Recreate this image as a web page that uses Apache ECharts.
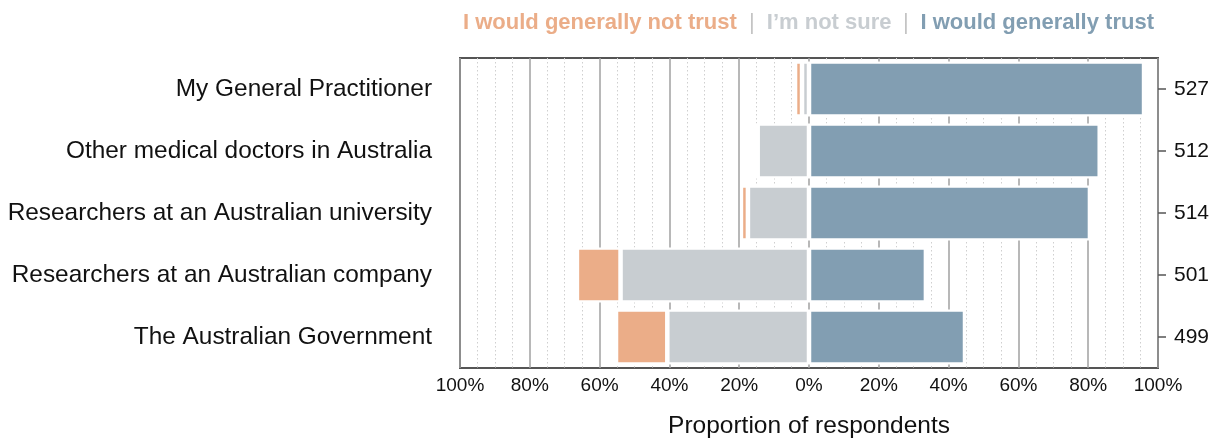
<!DOCTYPE html>
<html>
<head>
<meta charset="utf-8">
<script src="https://cdn.jsdelivr.net/npm/echarts@6/dist/echarts.min.js"></script>
<style>
  html, body { margin: 0; padding: 0; background: #ffffff; }
  #chart { width: 1215px; height: 441px; }
</style>
</head>
<body>
<div id="chart"></div>
<script>
// ---- Data ----
const categories = [
  'My General Practitioner',
  'Other medical doctors in Australia',
  'Researchers at an Australian university',
  'Researchers at an Australian company',
  'The Australian Government'
];
const respondents = ['527', '512', '514', '501', '499'];
// percentages of respondents
const notTrust = [2, 1, 2, 12.5, 14.7];
const notSure  = [2, 14.7, 17.5, 54, 40.6];
const trust    = [96, 83.3, 80.5, 33.5, 44.7];

const legendLabels = ['I would generally not trust', 'I\u2019m not sure', 'I would generally trust'];
const colors = { notTrust: '#EBAD88', notSure: '#C8CDD1', trust: '#829EB2' };

const FONT = 'Liberation Sans';

const chart = echarts.init(document.getElementById('chart'), null, { renderer: 'canvas' });

const barStyle = (c) => ({ color: c, borderColor: '#ffffff', borderWidth: 2.25 });

const option = {
  animation: false,
  backgroundColor: '#ffffff',
  title: {
    left: 463,
    top: 12,
    padding: 0,
    text: '{a|' + legendLabels[0] + '}{s||}{b|' + legendLabels[1] + '}{s2||}{c|' + legendLabels[2] + '}',
    textStyle: {
      fontFamily: FONT,
      fontSize: 22,
      rich: {
        a: { color: colors.notTrust, fontWeight: 'bold', fontSize: 22, fontFamily: FONT },
        b: { color: colors.notSure, fontWeight: 'bold', fontSize: 22, fontFamily: FONT },
        c: { color: colors.trust, fontWeight: 'bold', fontSize: 22, fontFamily: FONT },
        s: { color: '#c4c4c4', fontWeight: 'normal', fontSize: 22, fontFamily: FONT, width: 30, align: 'center' },
        s2: { color: '#c4c4c4', fontWeight: 'normal', fontSize: 22, fontFamily: FONT, width: 29, align: 'center' }
      }
    }
  },
  grid: {
    left: 460,
    right: 57,
    top: 58,
    bottom: 73,
    containLabel: false,
    outerBoundsMode: 'none',
    show: true,
    borderColor: '#555555',
    borderWidth: 2,
    backgroundColor: 'transparent'
  },
  xAxis: {
    type: 'value',
    min: -100,
    max: 100,
    interval: 20,
    name: 'Proportion of respondents',
    nameLocation: 'middle',
    nameGap: 46,
    nameTextStyle: { fontFamily: FONT, fontSize: 24.5, color: '#111111' },
    axisLine: { show: false },
    axisTick: { show: false },
    axisLabel: {
      fontFamily: FONT,
      fontSize: 19,
      color: '#111111',
      margin: 8,
      formatter: (v) => Math.abs(v) + '%'
    },
    splitLine: { show: true, lineStyle: { color: '#a0a0a0', width: 1.5 } },
    minorTick: { show: false, splitNumber: 4 },
    minorSplitLine: { show: true, lineStyle: { color: '#cfcfcf', width: 1, type: [1.5, 2.5] } }
  },
  yAxis: [
    {
      type: 'category',
      data: categories,
      inverse: true,
      axisLine: { show: false },
      axisTick: { show: false },
      splitLine: { show: false },
      axisLabel: { fontFamily: FONT, fontSize: 24.4, color: '#111111', margin: 28 }
    },
    {
      type: 'category',
      data: respondents,
      inverse: true,
      position: 'right',
      axisLine: { show: false },
      axisTick: { show: true, alignWithLabel: true, length: 8, lineStyle: { color: '#555555', width: 1.5 } },
      splitLine: { show: false },
      axisLabel: { fontFamily: FONT, fontSize: 21, color: '#111111', margin: 16 }
    }
  ],
  series: [
    {
      name: legendLabels[1],
      type: 'bar',
      stack: 'total',
      yAxisIndex: 0,
      barCategoryGap: '11%',
      itemStyle: barStyle(colors.notSure),
      data: notSure.map((v) => -v)
    },
    {
      name: legendLabels[0],
      type: 'bar',
      stack: 'total',
      yAxisIndex: 0,
      barCategoryGap: '11%',
      itemStyle: barStyle(colors.notTrust),
      data: notTrust.map((v) => -v)
    },
    {
      name: legendLabels[2],
      type: 'bar',
      stack: 'total',
      yAxisIndex: 0,
      barCategoryGap: '11%',
      itemStyle: barStyle(colors.trust),
      data: trust
    }
  ]
};

chart.setOption(option);
</script>
</body>
</html>
